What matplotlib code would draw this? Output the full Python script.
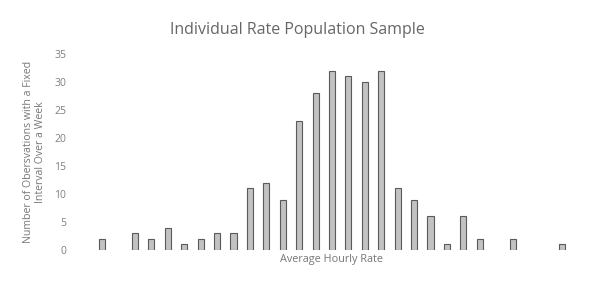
import numpy as np
import matplotlib.pyplot as plt

# observation counts per hourly-rate bin (bins have no labels on the chart)
counts = [2, 0, 3, 2, 4, 1, 2, 3, 3, 11, 12, 9, 23, 28, 32, 31, 30, 32,
          11, 9, 6, 1, 6, 2, 0, 2, 0, 0, 1]
yticks = [0, 5, 10, 15, 20, 25, 30, 35]

plt.rcParams['font.family'] = ['Open Sans', 'DejaVu Sans']

fig = plt.figure(figsize=(6.03, 2.95), dpi=100)
ax = fig.add_axes([94 / 603, 1 - 250 / 295, 476 / 603, 196 / 295])

x = np.arange(len(counts))
y = np.array(counts)
nz = y > 0  # empty bins draw nothing
ax.bar(x[nz], y[nz], width=0.37, color='#c2c2c2', edgecolor='#5a5a5a', linewidth=0.8)

ax.set_xlim(-0.5, len(counts) - 0.5)
ax.set_ylim(0, 35)
ax.set_yticks(yticks)
ax.set_xticks([])
ax.tick_params(axis='y', length=0, labelsize=7.5, labelcolor='#808080', pad=20)
for s in ax.spines.values():
    s.set_visible(False)

fig.text(0.493, 1 - 30 / 295, 'Individual Rate Population Sample', ha='center', va='center',
         fontsize=11.5, color='#666666')
ax.set_xlabel('Average Hourly Rate', fontsize=7.8, color='#777777', labelpad=3)
ax.set_ylabel('Number of Obersvations with a Fixed\nInterval Over a Week', fontsize=7.6,
              color='#777777', labelpad=6, linespacing=1.15)

fig.savefig('out.png', dpi=100)
